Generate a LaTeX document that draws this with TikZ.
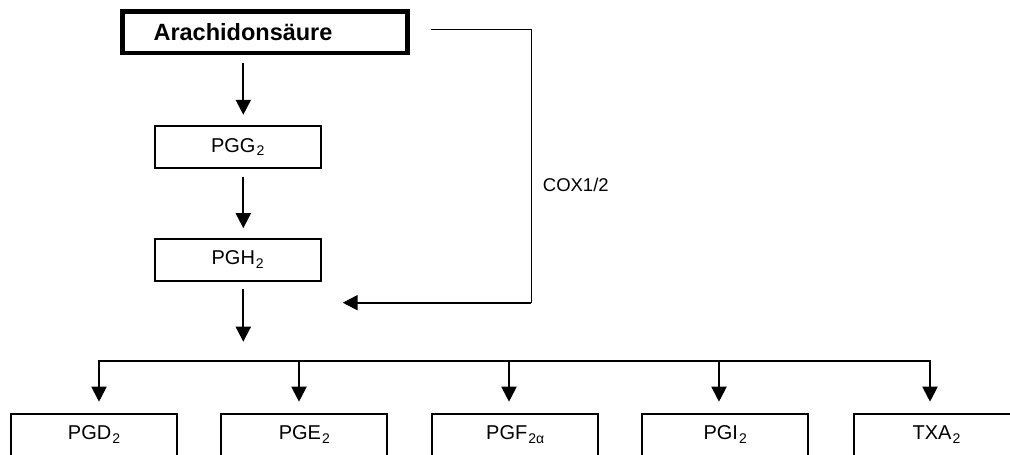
\documentclass[tikz,border=0pt]{standalone}
\usepackage{fontspec}
\setmainfont{Liberation Sans}
\usetikzlibrary{arrows.meta}
% lowered, smaller index as used in the compound names
\newcommand\subs[1]{\kern1pt\raisebox{-3.4pt}{\fontsize{14}{14}\selectfont #1}}

\begin{document}
\begin{tikzpicture}[x=1pt,y=-1pt,
  stepbox/.style={draw, line width=2pt, minimum width=166pt, minimum height=42pt,
                  inner sep=0pt, font=\fontsize{20}{21}\selectfont},
  srcbox/.style={draw, line width=4.8pt, minimum width=285pt, minimum height=41.5pt,
                 inner sep=0pt, font=\bfseries\fontsize{23.5}{24}\selectfont},
  arr/.style={line width=2pt, -{Triangle[width=15pt,length=15pt]}},
  thinline/.style={line width=1.3pt}
]
\useasboundingbox (0,0) rectangle (1010,455);

% main chain (the source label sits left of the box centre)
\node[srcbox]  (ara) at (265,32.2)    {Arachidonsäure\hspace{44pt}\null};
\node[stepbox] (pgg) at (237.7,146.8) {PGG\subs{2}};
\node[stepbox] (pgh) at (237.7,259.7) {PGH\subs{2}};

% products
\node[stepbox] (pgd) at (94,434.7)    {PGD\subs{2}};
\node[stepbox] (pge) at (304.3,434.7) {PGE\subs{2}};
\node[stepbox] (pgf) at (515.2,434.7) {PGF\subs{2α}};
\node[stepbox] (pgi) at (725.2,434.7) {PGI\subs{2}};
\node[stepbox] (txa) at (936.5,434.7) {TXA\subs{2}};

% helper coordinates
\coordinate (spine) at (243.3,0);
\coordinate (b1) at (99,360.7);
\coordinate (b2) at (299,360.7);
\coordinate (b3) at (509,360.7);
\coordinate (b4) at (719,360.7);
\coordinate (b5) at (930,360.7);
\coordinate (coxrail) at (531.3,0);
\coordinate (coxend) at (342.7,302.7);

% vertical chain arrows
\draw[arr, shorten <=8pt, shorten >=10pt] (spine |- ara.south) -- (spine |- pgg.north);
\draw[arr, shorten <=8pt, shorten >=9.5pt] (spine |- pgg.south) -- (spine |- pgh.north);
\draw[arr, shorten <=7.5pt, shorten >=19pt] (spine |- pgh.south) -- (spine |- b3);

% distribution bus
\draw[arr, shorten >=11pt] (b3) -| (b1 |- pgd.north);
\draw[arr, shorten >=11pt] (b3) -| (b5 |- txa.north);
\draw[arr, shorten >=11pt] (b2) -- (b2 |- pge.north);
\draw[arr, shorten >=11pt] (b3) -- (b3 |- pgf.north);
\draw[arr, shorten >=11pt] (b4) -- (b4 |- pgi.north);

% COX bypass
\draw[thinline] ([xshift=21pt,yshift=3pt]ara.east) -| (coxrail |- coxend);
\draw[line width=2pt, -{Triangle[width=15pt,length=15pt]}] (coxrail |- coxend) -- (coxend);
\node[font=\fontsize{18.5}{19}\selectfont, anchor=base west, inner sep=0pt] (coxlabel)
  at (542.7,191.7) {COX1/2};
\end{tikzpicture}
\end{document}
